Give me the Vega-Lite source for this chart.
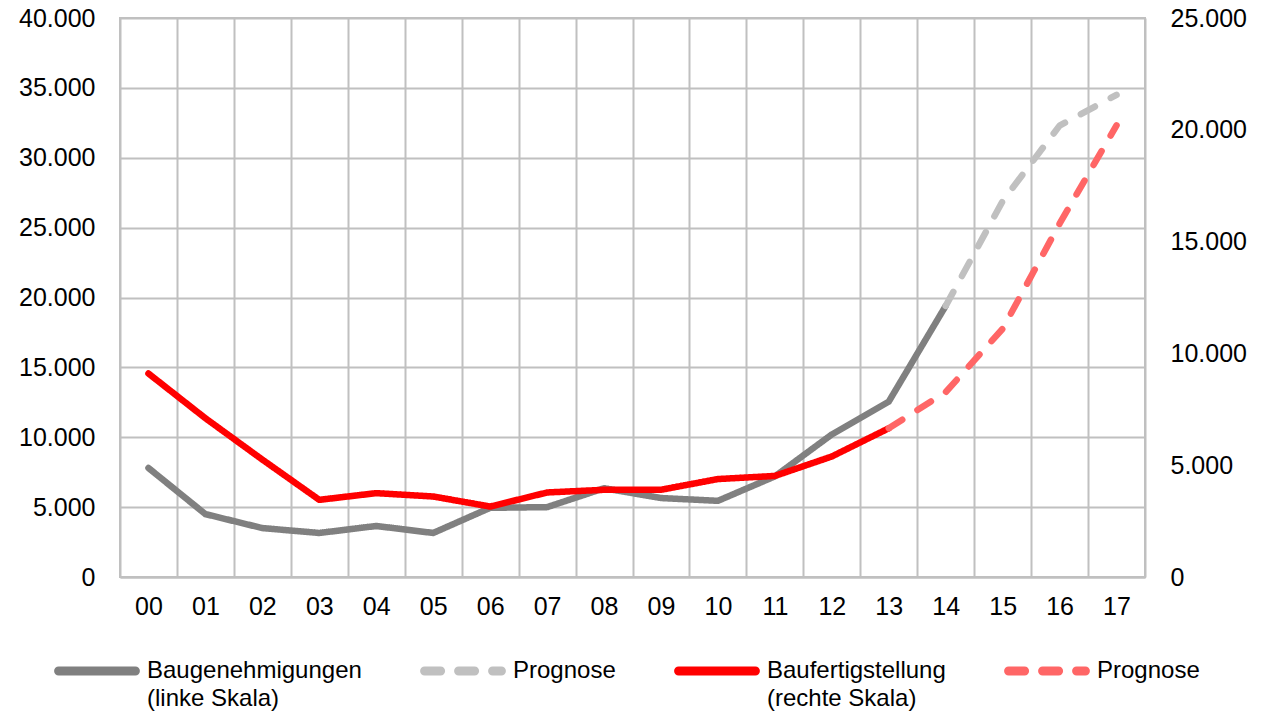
{
  "$schema": "https://vega.github.io/schema/vega-lite/v6.json",
  "width": 1025,
  "height": 559,
  "autosize": {"type": "none"},
  "padding": {"left": 120, "top": 18, "right": 125, "bottom": 139},
  "config": {
    "font": "Liberation Sans",
    "view": {"stroke": "#c0c0c0", "strokeWidth": 2},
    "axis": {"labelFont": "Liberation Sans", "labelFontSize": 25, "labelColor": "#000000", "ticks": false, "domain": false, "gridColor": "#c0c0c0", "gridWidth": 2, "gridOpacity": 1, "title": null, "labelOverlap": false}
  },
  "data": {"values": [
    {"yr": "00", "v": 7800, "s": "A"},
    {"yr": "01", "v": 4500, "s": "A"},
    {"yr": "02", "v": 3500, "s": "A"},
    {"yr": "03", "v": 3150, "s": "A"},
    {"yr": "04", "v": 3650, "s": "A"},
    {"yr": "05", "v": 3150, "s": "A"},
    {"yr": "06", "v": 4950, "s": "A"},
    {"yr": "07", "v": 5000, "s": "A"},
    {"yr": "08", "v": 6350, "s": "A"},
    {"yr": "09", "v": 5650, "s": "A"},
    {"yr": "10", "v": 5450, "s": "A"},
    {"yr": "11", "v": 7200, "s": "A"},
    {"yr": "12", "v": 10200, "s": "A"},
    {"yr": "13", "v": 12550, "s": "A"},
    {"yr": "14", "v": 19400, "s": "A"},
    {"yr": "14", "v": 19400, "s": "B"},
    {"yr": "15", "v": 26900, "s": "B"},
    {"yr": "16", "v": 32300, "s": "B"},
    {"yr": "17", "v": 34500, "s": "B"},
    {"yr": "00", "v": 9100, "s": "C"},
    {"yr": "01", "v": 7100, "s": "C"},
    {"yr": "02", "v": 5250, "s": "C"},
    {"yr": "03", "v": 3450, "s": "C"},
    {"yr": "04", "v": 3750, "s": "C"},
    {"yr": "05", "v": 3600, "s": "C"},
    {"yr": "06", "v": 3150, "s": "C"},
    {"yr": "07", "v": 3780, "s": "C"},
    {"yr": "08", "v": 3900, "s": "C"},
    {"yr": "09", "v": 3900, "s": "C"},
    {"yr": "10", "v": 4380, "s": "C"},
    {"yr": "11", "v": 4520, "s": "C"},
    {"yr": "12", "v": 5390, "s": "C"},
    {"yr": "13", "v": 6650, "s": "C"},
    {"yr": "13", "v": 6650, "s": "D"},
    {"yr": "14", "v": 8270, "s": "D"},
    {"yr": "15", "v": 11100, "s": "D"},
    {"yr": "16", "v": 15800, "s": "D"},
    {"yr": "17", "v": 20200, "s": "D"}
  ]},
  "encoding": {
    "x": {"field": "yr", "type": "ordinal", "scale": {"type": "band", "paddingInner": 0, "paddingOuter": 0},
      "axis": {"labelAngle": 0, "tickBand": "extent", "grid": true, "labelPadding": 17, "domain": true, "domainColor": "#c0c0c0", "domainWidth": 2}},
    "color": {"field": "s", "type": "nominal",
      "scale": {"domain": ["A", "B", "C", "D"], "range": ["#808080", "#c0c0c0", "#ff0000", "#ff6666"]},
      "legend": {"orient": "none", "legendX": -66, "legendY": 610, "direction": "horizontal", "columns": 4, "title": null, "padding": 0,
        "symbolType": "stroke", "symbolSize": 5900, "symbolStrokeWidth": 9,
        "labelFont": "Liberation Sans", "labelFontSize": 24, "labelColor": "#000000", "labelLimit": 400,
        "columnPadding": 44, "labelOffset": 7, "labelBaseline": "top",
        "labelExpr": "datum.value == 'A' ? ['Baugenehmigungen', '(linke Skala)'] : datum.value == 'C' ? ['Baufertigstellung', '(rechte Skala)'] : ['Prognose', ' ']",
        "encode": {"labels": {"update": {"dy": {"value": -12}, "lineHeight": {"value": 28}}}, "symbols": {"update": {"strokeCap": {"value": "round"}}}}}},
    "strokeDash": {"field": "s", "type": "nominal",
      "scale": {"domain": ["A", "B", "C", "D"], "range": [[1, 0], [16, 18], [1, 0], [16, 18]]},
      "legend": null}
  },
  "layer": [
    {
      "transform": [{"filter": "datum.s == 'A' || datum.s == 'B'"}],
      "mark": {"type": "line", "strokeWidth": 6.5, "strokeCap": "round", "strokeJoin": "round"},
      "encoding": {
        "y": {"field": "v", "type": "quantitative", "scale": {"domain": [0, 40000]},
          "axis": {"orient": "left", "values": [0, 5000, 10000, 15000, 20000, 25000, 30000, 35000, 40000], "grid": true, "labelPadding": 25,
            "labelExpr": "replace(format(datum.value, ','), ',', '.')"}}
      }
    },
    {
      "transform": [{"filter": "datum.s == 'C' || datum.s == 'D'"}],
      "mark": {"type": "line", "strokeWidth": 6.5, "strokeCap": "round", "strokeJoin": "round"},
      "encoding": {
        "y": {"field": "v", "type": "quantitative", "scale": {"domain": [0, 25000]},
          "axis": {"orient": "right", "values": [0, 5000, 10000, 15000, 20000, 25000], "grid": false, "labelPadding": 25,
            "labelExpr": "replace(format(datum.value, ','), ',', '.')"}}
      }
    }
  ],
  "resolve": {"scale": {"y": "independent"}}
}
